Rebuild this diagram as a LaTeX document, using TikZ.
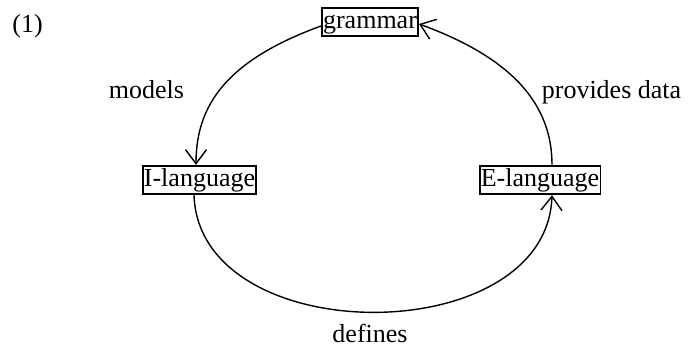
\documentclass[tikz,border=0pt]{standalone}
\usepackage{fontspec}
\setmainfont{Liberation Serif}
\usepackage{tikz}
\usetikzlibrary{arrows.meta, positioning}

\begin{document}
\begin{tikzpicture}[x=0.5pt, y=0.5pt, line width=0.7pt,
    box/.style={draw, line width=0.9pt, inner xsep=0.6pt, inner ysep=0pt, text height=10.5pt, text depth=3.8pt},
    lbl/.style={inner sep=0pt},
    arr/.style={-{Straight Barb[length=7pt, width=10.5pt]}}]
          \useasboundingbox (0,0) rectangle (688,345);
          \fontsize{13}{15.6}\selectfont
          \node[box] (g) at (370,323) {grammar};
          \node[box] (i) at (199.5,165) {I-language};
          \node[box] (e) at (540,165) {E-language};

          \node[lbl] (n1) at (27.5,319) {(1)};
          \node[lbl] (m) at (146.5,255.5) {models};
          \node[lbl] (p) at (611.5,252.5) {provides data};
          \node[lbl] (d) at (370,12) {defines};

          \draw[arr] ([yshift=-2pt]g.west) to[out=200, in=90, out distance=50pt, in distance=30pt] ([xshift=-1.75pt]i.north);
          \draw[arr] ([xshift=-2.75pt]i.south) to[out=-88, in=-92, out distance=78pt, in distance=78pt] ([xshift=6pt]e.south);
          \draw[arr] ([xshift=6pt]e.north) to[out=90, in=-20, out distance=30pt, in distance=50pt] ([yshift=-1pt]g.east);
        \end{tikzpicture}
\end{document}
